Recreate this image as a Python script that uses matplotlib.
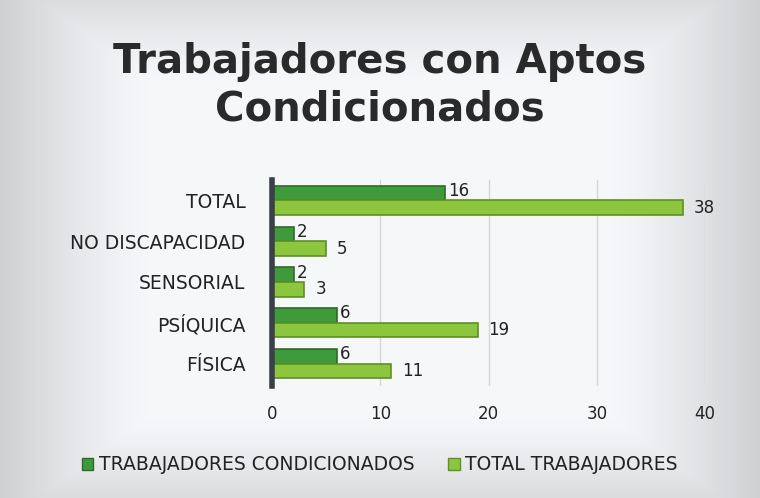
import numpy as np
import matplotlib
matplotlib.use('Agg')
import matplotlib.pyplot as plt
from matplotlib.patches import Patch

categories = ['FÍSICA', 'PSÍQUICA', 'SENSORIAL', 'NO DISCAPACIDAD', 'TOTAL']
condicionados = [6, 6, 2, 2, 16]
totales = [11, 19, 3, 5, 38]
series_names = ['TRABAJADORES CONDICIONADOS', 'TOTAL TRABAJADORES']
x_ticks = [0, 10, 20, 30, 40]

dark_green = '#3f9a3c'
light_green = '#8cc63e'
edge_dark = '#2f6a2a'
edge_light = '#5f8f25'
text_col = '#222222'

W, H = 760, 498
fig = plt.figure(figsize=(W / 100, H / 100), dpi=100)

# background: light grey frame fading to near white in the middle
bg = fig.add_axes([0, 0, 1, 1])
yy, xx = np.mgrid[0:1:200j, 0:1:300j]
dx = np.abs(xx - 0.5) / 0.5
dy = np.abs(yy - 0.5) / 0.5
d = np.maximum(dx, dy * 0.9)
shade = 1 - 0.16 * np.clip((d - 0.6) / 0.4, 0, 1) ** 1.3
img = np.dstack([shade * 0.965, shade * 0.97, shade * 0.98])
bg.imshow(img, aspect='auto', extent=[0, 1, 0, 1])
bg.set_axis_off()

fig.text(0.5, 1 - 86 / H, 'Trabajadores con Aptos\nCondicionados', ha='center', va='center',
         fontsize=29, fontweight='bold', color='#2a2a2a', linespacing=1.25, family='DejaVu Sans')

ax = fig.add_axes([272 / W, 1 - 386 / H, (705 - 272) / W, (386 - 180) / H])
ax.set_facecolor('none')
y = np.arange(len(categories))
h = 0.36
ax.barh(y + h / 2, condicionados, height=h, color=dark_green, edgecolor=edge_dark, linewidth=1.2, zorder=3)
ax.barh(y - h / 2, totales, height=h, color=light_green, edgecolor=edge_light, linewidth=1.2, zorder=3)

for yi, v in zip(y, condicionados):
    ax.text(v + 0.3, yi + h / 2 + 0.05, str(v), va='center', ha='left', fontsize=12, color=text_col, zorder=4)
for yi, v in zip(y, totales):
    ax.text(v + 1.0, yi - h / 2, str(v), va='center', ha='left', fontsize=12, color=text_col, zorder=4)

ax.set_xlim(0, 40)
ax.set_ylim(-0.55, len(categories) - 0.5)
ax.set_xticks(x_ticks)
ax.set_xticklabels([str(t) for t in x_ticks], fontsize=12, color=text_col)
ax.set_yticks(y)
ax.set_yticklabels(categories, fontsize=13.5, color=text_col)
ax.tick_params(length=0, pad=19)
ax.tick_params(axis='x', pad=14)
ax.xaxis.grid(True, color='#d5d5d5', linewidth=1, zorder=0)
for s in ['top', 'right', 'bottom']:
    ax.spines[s].set_visible(False)
ax.spines['left'].set_color('#3a3f48')
ax.spines['left'].set_linewidth(4)
ax.spines['left'].set_zorder(5)

handles = [Patch(facecolor=dark_green, edgecolor=edge_dark),
           Patch(facecolor=light_green, edgecolor=edge_light)]
fig.legend(handles, series_names, loc='center', bbox_to_anchor=(0.5, 1 - 465 / H), ncol=2,
           frameon=False, fontsize=13.5, handlelength=0.6, handleheight=0.6, handletextpad=0.3,
           columnspacing=1.8, labelcolor=text_col)

fig.savefig('out.png', dpi=100)
